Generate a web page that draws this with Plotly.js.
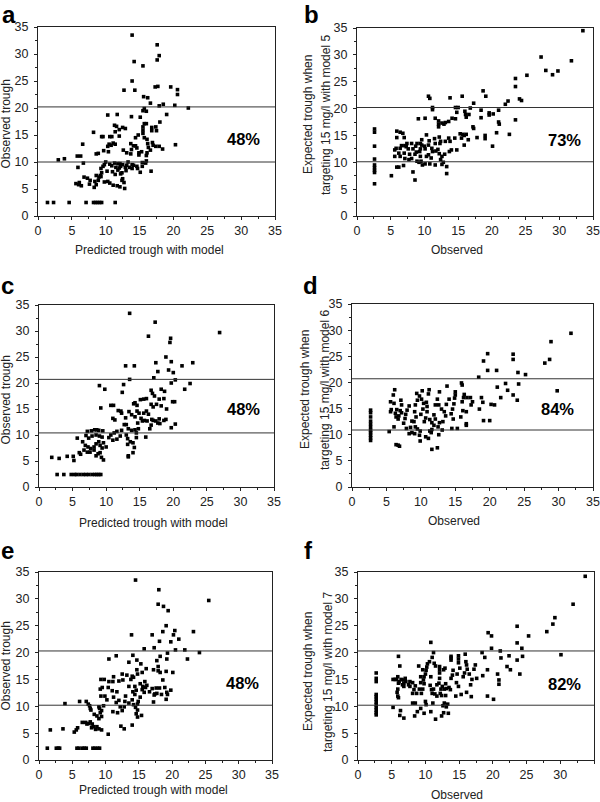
<!DOCTYPE html>
<html><head><meta charset="utf-8">
<script src="https://cdn.plot.ly/plotly-3.0.1.min.js"></script>
<style>html,body{margin:0;padding:0;background:#fff}#chart{width:600px;height:802px}</style>
</head><body><div id="chart"></div>
<script>
// ---------- data ----------
const panelA = [[13.9,33.5],[17.6,31.7],[17.9,29.7],[17.6,28.9],[14.2,28.6],[15.5,27.8],[13.9,25.0],[12.7,23.3],[14.3,23.3],[17.3,23.9],[17.7,24.0],[19.6,23.9],[20.6,23.4],[20.6,22.5],[15.6,22.1],[16.2,21.9],[16.6,20.9],[18.5,20.7],[17.9,20.4],[20.2,20.5],[22.2,20.0],[15.7,19.9],[15.5,19.5],[16.0,19.4],[19.0,18.8],[10.3,18.7],[11.7,18.8],[13.8,18.4],[15.1,18.3],[18.0,17.4],[15.7,17.1],[16.0,17.1],[11.3,16.8],[11.6,16.6],[12.5,16.4],[12.9,16.2],[12.0,16.0],[15.5,16.5],[16.8,16.4],[17.4,16.5],[17.5,15.8],[16.8,15.8],[15.5,15.9],[8.2,15.5],[11.4,15.6],[15.5,15.3],[14.8,15.0],[9.4,14.7],[9.6,14.7],[10.6,14.7],[10.9,14.7],[12.0,14.8],[14.4,14.5],[15.7,14.5],[16.1,14.2],[6.6,13.3],[10.5,13.3],[10.8,13.1],[11.1,13.5],[11.4,13.3],[10.3,12.9],[13.7,13.4],[14.1,13.0],[14.4,13.0],[14.6,12.6],[16.2,13.4],[16.3,12.7],[16.9,13.6],[17.0,13.1],[17.4,12.9],[17.9,12.9],[18.4,12.4],[20.3,13.2],[12.6,12.2],[13.8,12.3],[13.1,11.7],[13.7,11.5],[14.9,11.7],[14.9,11.3],[15.3,11.9],[16.6,12.2],[16.1,11.7],[16.0,11.2],[9.7,12.1],[10.4,11.9],[8.6,11.5],[8.9,11.6],[5.8,11.1],[6.3,11.1],[3.9,10.6],[3.0,10.4],[6.7,9.8],[5.9,9.0],[10.0,10.0],[9.8,9.5],[9.6,9.2],[9.3,8.8],[10.6,9.6],[10.9,9.3],[11.3,9.8],[11.8,9.7],[12.1,9.7],[12.2,9.2],[12.5,9.5],[13.1,9.4],[12.9,9.0],[11.5,9.0],[12.0,8.9],[11.8,8.5],[13.3,10.0],[13.5,9.0],[13.9,9.5],[14.1,9.4],[13.9,8.8],[14.6,9.2],[14.7,8.8],[15.4,9.9],[15.4,9.2],[16.0,10.2],[15.9,9.8],[15.1,8.1],[16.7,8.3],[9.4,8.0],[10.2,8.3],[11.0,8.2],[11.4,7.7],[12.2,7.8],[9.2,7.5],[9.3,7.3],[8.6,7.5],[9.0,7.2],[6.8,7.2],[7.3,7.0],[8.9,6.6],[7.7,6.6],[8.4,6.4],[9.8,6.3],[8.3,5.3],[8.6,5.8],[7.6,5.9],[6.1,6.2],[6.0,5.8],[6.4,5.6],[5.6,6.0],[10.3,6.4],[10.6,6.1],[11.1,5.7],[11.7,5.6],[12.1,5.4],[12.8,5.1],[12.7,6.2],[12.4,6.6],[12.5,6.9],[12.4,8.0],[13.0,8.4],[1.4,2.5],[2.3,2.5],[4.6,2.5],[7.1,2.5],[8.2,2.5],[8.5,2.5],[8.8,2.5],[9.1,2.5],[9.4,2.5],[11.4,2.5]];

const panelB = [[33.5,34.5],[27.3,29.6],[31.8,28.9],[28.0,27.1],[29.8,27.0],[29.0,26.3],[25.2,26.2],[23.5,25.6],[23.5,24.1],[18.7,23.3],[19.1,22.3],[15.6,22.3],[10.6,22.3],[10.8,21.9],[13.8,22.0],[24.1,21.8],[24.4,21.5],[22.4,21.4],[22.0,20.8],[17.3,21.0],[11.2,20.2],[11.2,19.8],[14.6,20.2],[15.0,20.2],[16.0,19.5],[16.8,20.1],[18.4,19.7],[19.6,19.2],[21.0,19.7],[14.8,19.3],[16.1,18.9],[16.2,18.4],[16.6,18.9],[20.2,19.0],[19.6,18.8],[9.1,18.1],[10.1,18.2],[11.6,18.2],[12.1,17.7],[12.1,17.1],[12.1,16.6],[12.6,17.3],[12.9,17.1],[13.1,17.4],[13.6,17.6],[14.1,18.2],[14.6,18.1],[18.4,18.3],[17.2,16.6],[17.3,16.3],[21.0,17.5],[21.1,17.1],[23.5,17.9],[22.6,15.2],[20.7,15.5],[20.1,13.0],[19.0,15.0],[19.0,14.4],[17.8,14.6],[15.7,15.2],[15.9,15.0],[16.2,15.2],[15.3,15.3],[15.9,13.2],[16.5,14.2],[14.5,14.5],[15.5,14.5],[14.0,12.3],[14.8,12.3],[13.6,14.5],[12.4,13.9],[13.1,13.9],[13.8,13.9],[9.6,14.2],[10.3,15.1],[9.6,13.2],[10.6,13.2],[11.1,12.6],[11.7,12.1],[12.6,11.1],[11.6,13.5],[12.3,13.5],[12.8,10.0],[13.3,9.2],[13.3,7.9],[11.6,9.5],[10.1,9.7],[10.8,9.7],[5.9,15.8],[6.4,15.6],[6.8,15.4],[5.9,14.6],[7.0,14.6],[7.4,13.5],[8.1,13.5],[8.9,13.5],[9.4,13.5],[6.6,13.1],[7.1,13.1],[5.8,12.6],[6.4,12.6],[5.6,12.3],[7.6,12.5],[8.3,12.5],[9.4,12.5],[10.1,12.5],[6.2,11.7],[7.0,11.7],[7.8,11.5],[8.6,11.5],[9.4,11.1],[10.3,11.1],[5.6,11.1],[6.4,11.1],[7.1,10.7],[8.1,10.7],[8.9,10.2],[9.5,10.2],[5.9,9.1],[6.2,9.1],[6.9,9.4],[8.3,8.2],[5.1,7.5],[8.6,6.7],[7.3,12.9],[8.7,13.0],[10.0,13.0],[10.6,11.4],[12.2,11.6],[13.0,11.5],[9.3,12.0],[11.2,12.0],[12.0,12.4],[13.7,12.0],[12.4,10.5],[9.2,10.0],[9.7,9.5],[12.6,9.6],[7.7,10.5],[8.8,11.9],[11.0,10.8],[12.2,14.7],[10.7,14.0],[11.5,14.4],[2.6,16.2],[2.6,15.6],[2.6,13.0],[2.6,10.6],[2.6,9.5],[2.6,9.0],[2.6,8.5],[2.6,8.1],[2.6,6.0]];

const panelC = [[13.5,33.4],[17.3,31.7],[16.3,29.0],[26.9,29.7],[19.6,28.6],[19.5,27.8],[18.9,25.0],[19.7,24.1],[22.9,23.9],[17.4,23.9],[21.3,23.3],[12.9,23.3],[14.2,23.3],[17.7,22.2],[19.3,22.5],[20.0,22.0],[17.1,21.0],[13.5,20.7],[20.3,20.6],[19.7,20.0],[22.5,19.9],[21.7,18.8],[9.0,19.5],[9.8,18.8],[12.6,19.7],[12.4,18.2],[18.2,18.8],[18.7,18.4],[16.7,18.6],[16.9,18.0],[17.2,17.5],[15.6,16.9],[16.0,17.0],[15.1,16.8],[17.9,16.9],[18.6,17.0],[19.9,16.4],[20.2,16.4],[19.0,15.0],[18.2,15.6],[17.5,15.9],[10.7,15.7],[11.1,15.7],[11.8,14.7],[12.2,14.6],[12.3,14.2],[14.1,16.0],[14.3,16.2],[14.6,15.7],[16.7,15.9],[17.0,15.4],[13.4,14.5],[14.6,14.6],[14.9,14.2],[15.6,14.2],[16.0,14.6],[16.3,14.0],[14.3,13.5],[13.8,13.9],[12.9,13.3],[9.2,15.2],[11.0,13.2],[11.3,12.9],[15.2,13.2],[15.4,12.7],[15.7,12.8],[16.1,12.7],[16.8,13.0],[17.0,12.8],[17.4,12.7],[17.7,12.3],[18.0,12.2],[17.9,13.1],[14.7,12.3],[16.5,11.2],[16.7,11.9],[14.8,11.2],[14.3,11.0],[13.8,10.9],[12.7,12.0],[13.0,12.0],[13.3,11.2],[12.3,10.9],[11.6,10.7],[11.2,10.4],[10.7,10.0],[10.4,9.5],[11.0,9.0],[11.6,9.2],[12.1,9.8],[13.0,10.0],[13.2,9.3],[13.2,8.2],[13.6,8.7],[14.0,8.5],[14.5,9.5],[14.5,10.4],[14.2,7.6],[13.3,6.0],[13.3,5.8],[14.0,6.6],[15.9,9.6],[19.7,11.4],[20.3,12.1],[18.9,13.0],[18.6,12.8],[7.2,10.7],[7.8,10.8],[8.3,11.0],[8.6,11.0],[8.9,10.9],[9.5,10.8],[7.0,9.9],[7.4,9.4],[7.9,9.8],[8.5,10.0],[9.0,9.8],[9.4,9.6],[5.7,9.4],[6.5,8.7],[6.9,8.0],[7.3,7.7],[7.7,7.4],[8.2,7.7],[8.5,8.3],[8.9,8.7],[9.1,8.0],[9.6,8.5],[10.0,7.7],[9.4,7.5],[6.7,7.1],[7.2,6.7],[7.6,6.7],[8.2,7.1],[8.8,6.4],[9.1,6.6],[9.3,5.7],[9.6,5.2],[8.5,6.0],[6.0,6.6],[6.2,6.3],[5.1,5.9],[5.2,5.1],[4.2,5.9],[3.0,5.5],[1.9,5.7],[2.7,2.4],[3.7,2.4],[4.8,2.4],[5.3,2.4],[5.6,2.4],[6.1,2.4],[6.6,2.4],[7.0,2.4],[7.4,2.4],[7.9,2.4],[8.3,2.4],[8.6,2.4],[8.9,2.4],[9.2,2.4]];

const panelD = [[31.8,29.4],[28.9,27.8],[28.7,24.4],[28.0,23.7],[29.8,18.4],[23.4,25.4],[23.4,24.4],[19.7,25.5],[19.1,24.1],[24.1,21.9],[25.2,21.5],[24.2,19.7],[24.0,16.6],[23.4,17.6],[22.3,19.8],[22.6,18.5],[21.6,17.1],[21.0,22.3],[19.7,22.3],[18.4,21.0],[21.1,19.1],[20.2,15.8],[20.7,15.7],[20.0,12.7],[19.1,12.7],[19.0,16.2],[18.8,17.1],[18.5,14.9],[17.5,16.3],[17.2,17.1],[17.3,15.7],[16.7,17.1],[16.2,17.1],[15.9,19.9],[16.0,19.5],[16.3,17.7],[16.0,16.3],[16.1,14.6],[15.8,13.4],[16.6,14.4],[16.6,12.1],[16.6,11.8],[15.0,18.2],[15.0,17.6],[14.9,17.0],[14.8,15.9],[14.6,14.9],[14.4,14.0],[14.7,13.0],[15.3,11.2],[14.5,11.2],[13.8,19.3],[14.1,16.8],[13.7,15.8],[13.4,14.4],[13.6,13.6],[13.2,12.5],[13.1,10.9],[12.6,10.0],[12.7,18.2],[12.4,16.8],[12.6,15.7],[13.0,14.9],[12.7,12.3],[12.5,11.5],[12.1,13.0],[11.9,13.8],[11.6,11.0],[11.1,17.8],[11.2,18.6],[10.8,16.2],[10.9,15.4],[10.9,14.4],[10.7,13.2],[11.3,12.9],[11.6,12.3],[11.9,11.8],[12.1,15.7],[11.3,10.7],[11.5,10.4],[11.1,9.3],[10.7,9.6],[11.6,7.2],[12.4,7.5],[10.2,18.4],[9.8,17.4],[10.1,16.8],[10.4,16.0],[10.3,14.9],[10.0,13.9],[10.5,12.5],[9.9,10.7],[9.8,9.9],[9.4,17.9],[9.5,16.6],[9.2,15.7],[9.1,14.4],[9.3,13.4],[9.0,12.5],[9.2,11.5],[9.5,11.1],[8.7,12.6],[8.5,11.4],[8.7,10.4],[9.1,10.2],[9.9,8.8],[8.3,15.5],[8.0,14.7],[7.8,13.9],[7.7,13.1],[7.5,12.2],[7.9,11.2],[8.3,10.2],[7.2,15.7],[7.0,14.6],[6.8,13.6],[6.7,13.0],[7.1,16.6],[7.2,14.2],[6.5,14.8],[6.4,13.4],[6.3,14.1],[6.1,16.0],[6.0,17.6],[6.2,18.6],[5.7,14.8],[5.6,16.3],[6.1,11.5],[5.4,10.6],[5.6,14.4],[6.4,8.1],[6.7,8.0],[6.9,7.8],[2.7,14.7],[2.7,14.2],[2.7,13.4],[2.7,12.6],[2.7,12.0],[2.7,11.4],[2.7,10.8],[2.7,10.4],[2.7,9.9],[2.7,9.4],[2.7,8.9]];

const panelE = [[14.5,33.5],[18.0,31.7],[25.5,29.7],[17.9,29.0],[18.7,28.6],[19.4,27.8],[19.1,25.0],[20.4,24.1],[23.2,23.9],[18.6,23.9],[21.0,22.5],[13.9,23.3],[17.0,23.3],[20.2,23.3],[18.1,22.1],[19.8,22.0],[17.3,20.9],[15.8,20.7],[24.1,20.0],[20.5,20.5],[21.9,20.5],[22.3,18.8],[19.3,19.9],[19.2,18.8],[17.7,18.5],[18.2,19.3],[14.1,19.5],[11.6,19.4],[10.5,18.8],[13.5,18.2],[14.7,18.6],[16.1,17.0],[17.2,16.8],[17.9,17.4],[17.9,16.6],[18.2,16.3],[20.1,16.3],[14.7,16.8],[14.8,16.0],[15.5,16.3],[15.3,17.9],[14.0,15.6],[14.2,15.4],[13.2,15.8],[13.8,15.0],[12.5,16.0],[12.6,14.9],[12.0,14.7],[11.2,15.5],[11.1,14.6],[9.3,15.0],[9.8,15.0],[10.5,14.6],[10.4,13.5],[9.5,13.5],[9.2,13.2],[9.9,11.9],[9.3,11.9],[9.7,10.1],[10.2,11.2],[11.0,12.9],[11.7,12.7],[11.2,11.7],[11.6,10.7],[12.0,11.1],[12.2,9.9],[11.1,9.0],[11.8,8.8],[12.5,9.2],[12.8,9.9],[13.5,10.6],[14.0,11.2],[14.2,10.3],[14.4,12.2],[14.6,13.0],[14.1,12.7],[13.5,13.7],[13.0,11.9],[12.9,10.9],[12.3,6.3],[12.8,5.8],[14.0,6.5],[10.4,4.8],[15.2,11.7],[14.9,10.9],[14.8,10.4],[15.2,14.2],[15.5,13.1],[15.6,13.7],[15.9,14.6],[16.0,13.5],[16.2,13.9],[15.8,12.6],[14.8,9.3],[14.6,8.6],[14.4,13.7],[16.6,12.7],[17.0,13.3],[17.3,12.1],[17.4,12.3],[17.7,12.4],[17.6,13.4],[18.1,13.4],[18.4,12.2],[18.6,14.9],[18.9,13.5],[19.1,11.3],[19.2,12.6],[19.3,12.2],[19.8,13.0],[19.1,16.5],[14.5,9.8],[17.2,10.8],[15.4,8.3],[14.8,8.0],[3.9,10.5],[6.1,10.9],[7.1,10.9],[7.4,10.4],[7.6,10.1],[7.7,9.6],[7.8,9.3],[9.0,9.9],[9.1,9.6],[9.4,9.2],[9.2,8.8],[8.3,8.5],[8.7,8.2],[9.0,7.7],[9.4,8.1],[6.5,7.0],[7.0,7.0],[7.2,6.7],[7.5,6.8],[7.7,7.1],[8.0,6.7],[7.9,6.0],[8.2,6.2],[8.5,5.7],[8.7,6.2],[9.0,5.8],[9.4,5.6],[5.8,6.0],[5.6,5.6],[5.3,5.2],[3.6,5.8],[1.7,5.6],[1.25,2.2],[2.6,2.2],[2.9,2.2],[3.1,2.2],[5.7,2.2],[6.0,2.2],[6.5,2.2],[6.8,2.2],[7.1,2.2],[8.1,2.2],[8.4,2.2],[8.8,2.2],[9.1,2.2]];

const panelF = [[33.7,34.2],[31.9,29.0],[29.2,26.5],[28.9,25.3],[28.0,23.9],[30.1,19.6],[25.3,23.1],[23.6,24.9],[23.6,21.8],[24.3,20.8],[24.4,19.3],[24.0,16.0],[23.6,18.6],[22.4,19.4],[22.1,17.4],[22.6,16.8],[21.1,20.3],[21.2,19.0],[20.7,16.0],[20.9,14.9],[20.9,14.1],[20.1,11.3],[19.2,11.9],[19.2,16.8],[19.3,23.7],[19.8,23.1],[19.8,20.8],[18.8,19.1],[18.4,20.0],[18.5,15.7],[17.4,17.7],[17.2,16.9],[17.6,15.2],[16.9,15.0],[16.5,16.0],[16.7,14.0],[16.8,11.8],[16.1,12.6],[16.0,18.3],[16.1,17.7],[16.2,16.9],[15.8,16.2],[15.6,15.5],[15.9,19.7],[14.9,19.4],[14.9,18.8],[14.9,18.1],[15.1,17.1],[14.7,16.0],[14.6,14.4],[14.9,13.7],[15.3,12.2],[14.5,11.9],[14.1,16.7],[14.0,15.8],[13.8,15.2],[13.5,13.5],[13.7,13.1],[13.1,13.3],[12.8,13.2],[13.8,19.3],[13.8,19.0],[13.8,18.6],[12.9,17.1],[12.7,16.8],[13.0,14.2],[12.5,13.7],[12.3,13.2],[12.2,12.4],[13.3,10.4],[13.1,9.9],[13.4,8.7],[13.0,12.0],[12.4,12.0],[11.7,11.9],[11.4,12.3],[11.2,13.2],[10.9,13.1],[12.1,17.4],[12.1,16.8],[12.1,16.2],[12.1,15.2],[12.0,14.3],[11.5,17.5],[11.3,18.0],[11.2,20.0],[11.0,19.1],[10.8,21.9],[10.6,18.3],[10.8,15.5],[10.7,13.9],[11.0,12.4],[11.1,10.6],[10.8,9.0],[11.5,7.6],[12.4,8.2],[12.7,8.8],[12.6,10.1],[12.8,10.6],[11.7,14.0],[10.3,17.9],[10.2,17.3],[10.1,16.7],[10.0,16.0],[9.8,15.5],[9.7,14.9],[9.8,14.2],[9.6,13.2],[9.4,12.4],[10.0,10.9],[10.1,10.3],[9.8,8.7],[9.3,9.6],[8.8,9.0],[8.5,10.6],[8.7,12.4],[9.1,13.2],[9.3,14.4],[9.6,16.8],[9.3,15.5],[9.0,17.5],[8.3,13.1],[8.5,13.8],[8.1,14.4],[7.7,14.6],[7.7,13.7],[7.5,14.0],[7.1,14.6],[6.8,14.3],[6.6,14.0],[6.7,14.9],[7.0,15.2],[6.8,13.7],[6.4,15.0],[6.1,14.6],[6.0,14.3],[5.9,15.5],[5.7,15.0],[5.5,15.0],[5.2,15.0],[5.8,12.6],[5.9,11.9],[5.9,13.2],[6.0,19.3],[6.2,17.5],[6.0,11.6],[6.3,9.2],[6.2,8.3],[6.8,7.8],[8.4,8.2],[8.1,12.4],[8.1,10.6],[5.2,9.8],[2.7,16.2],[2.7,15.2],[2.7,14.6],[2.7,12.2],[2.7,11.8],[2.7,11.3],[2.7,10.8],[2.7,10.3],[2.7,9.8],[2.7,9.3],[2.7,8.8],[2.7,8.4]];

const refLinesA = [10.0, 20.2];
const refLinesB = [10.1, 20.2];
const refLinesC = [10.4, 20.7];
const refLinesD = [10.9, 20.7];
const refLinesE = [10.2, 20.3];
const refLinesF = [10.2, 20.3];

const percentLabels = ["48%", "73%", "48%", "84%", "48%", "82%"];
const panelLetters = ["a", "b", "c", "d", "e", "f"];
const xTitles = ["Predicted trough with model", "Observed", "Predicted trough with model", "Observed", "Predicted trough with model", "Observed"];
const yTitles = [
  ["Observed trough"],
  ["Expected trough when", "targeting 15 mg/l with model 5"],
  ["Observed trough"],
  ["Expected trough when", "targeting 15 mg/l with model 6"],
  ["Observed trough"],
  ["Expected trough when", "targeting 15 mg/l with model 7"]
];
const tickValues = [0, 5, 10, 15, 20, 25, 30, 35];
const minorTickValues = [2.5, 7.5, 12.5, 17.5, 22.5, 27.5, 32.5];

// ---------- layout geometry (pixels) ----------
const W = 600, H = 802;
const FONT = "Liberation Sans, Arial, Helvetica, sans-serif";
const LETTER_SIZE = 24;
const panels = [
  {pts: panelA, lines: refLinesA, box: {l:38, r:275, t:27, b:216}, pct: [30.3,14.3], letter: [1,19], xt: [149,250], yt: [[5.5,124]]},
  {pts: panelB, lines: refLinesB, box: {l:357, r:593, t:28, b:216}, pct: [30.8,14.1], letter: [303,18], xt: [457,250], yt: [[308,115],[326,115]]},
  {pts: panelC, lines: refLinesC, box: {l:39, r:274, t:305, b:487}, pct: [30.4,15.0], letter: [0,293], xt: [153,523], yt: [[5.5,400]]},
  {pts: panelD, lines: refLinesD, box: {l:352, r:593, t:304, b:487}, pct: [29.8,14.9], letter: [302,293], xt: [454,521], yt: [[305,390],[325,390]]},
  {pts: panelE, lines: refLinesE, box: {l:39, r:272, t:572, b:760}, pct: [30.5,14.3], letter: [0,558], xt: [153,790], yt: [[5.5,666]]},
  {pts: panelF, lines: refLinesF, box: {l:358, r:594, t:572, b:760}, pct: [30.6,14.2], letter: [303,558], xt: [457,795], yt: [[308,672],[328,672]]}
];
const px = v => v / W;
const py = v => 1 - v / H;

const traces = [];
const layout = {
  width: W, height: H, autosize: false,
  margin: {l:0, r:0, t:0, b:0, pad:0},
  paper_bgcolor: '#ffffff', plot_bgcolor: '#ffffff',
  showlegend: false,
  font: {family: FONT, color: '#222'},
  shapes: [], annotations: []
};

panels.forEach((p, i) => {
  const n = i === 0 ? '' : String(i + 1);
  const xa = 'x' + n, ya = 'y' + n;
  traces.push({
    type: 'scatter', mode: 'markers',
    x: p.pts.map(d => d[0]), y: p.pts.map(d => d[1]),
    xaxis: xa, yaxis: ya,
    marker: {symbol: 'square', size: 3.6, color: '#000', line: {width: 0}},
    cliponaxis: false, hoverinfo: 'skip'
  });
  const axBase = {
    range: [0, 35], tickvals: tickValues, ticktext: tickValues.map(String),
    ticks: 'outside', ticklen: 3, tickwidth: 1, tickcolor: '#222',
    minor: {tickvals: minorTickValues, ticks: 'outside', ticklen: 2, tickcolor: '#222', showgrid: false},
    showline: true, linecolor: '#222', linewidth: 1, mirror: true,
    showgrid: false, zeroline: false, fixedrange: true,
    tickfont: {family: FONT, size: 12.5, color: '#222'}
  };
  layout['xaxis' + n] = Object.assign({}, axBase, {
    domain: [px(p.box.l), px(p.box.r)], anchor: ya, ticklabelstandoff: 0
  });
  layout['yaxis' + n] = Object.assign({}, axBase, {
    domain: [py(p.box.b), py(p.box.t)], anchor: xa, ticklabelstandoff: 3
  });
  p.lines.forEach(v => {
    layout.shapes.push({type: 'line', xref: xa + ' domain', yref: ya, x0: 0, x1: 1, y0: v, y1: v,
      line: {color: '#333', width: 1}});
  });
  layout.annotations.push({
    xref: xa, yref: ya, x: p.pct[0], y: p.pct[1], text: '<b>' + percentLabels[i] + '</b>',
    showarrow: false, xanchor: 'center', yanchor: 'middle', font: {family: FONT, size: 16.5, color: '#000'}
  });
  const letterTop = Math.max(0, p.letter[1] - 0.905 * LETTER_SIZE);
  layout.annotations.push({
    xref: 'paper', yref: 'paper', x: px(p.letter[0]), y: py(letterTop), borderpad: 0,
    text: '<b>' + panelLetters[i] + '</b>', showarrow: false, xanchor: 'left', yanchor: 'top',
    font: {family: FONT, size: LETTER_SIZE, color: '#000'}
  });
  layout.annotations.push({
    xref: 'paper', yref: 'paper', x: px(p.xt[0]), y: py(p.xt[1]), text: xTitles[i],
    showarrow: false, xanchor: 'center', yanchor: 'middle', font: {family: FONT, size: 12, color: '#222'}
  });
  p.yt.forEach((pos, k) => {
    layout.annotations.push({
      xref: 'paper', yref: 'paper', x: px(pos[0]), y: py(pos[1]), text: yTitles[i][k],
      showarrow: false, textangle: -90, xanchor: 'center', yanchor: 'middle',
      font: {family: FONT, size: 12, color: '#222'}
    });
  });
});

Plotly.newPlot('chart', traces, layout, {staticPlot: true, displayModeBar: false});
</script>
</body></html>
